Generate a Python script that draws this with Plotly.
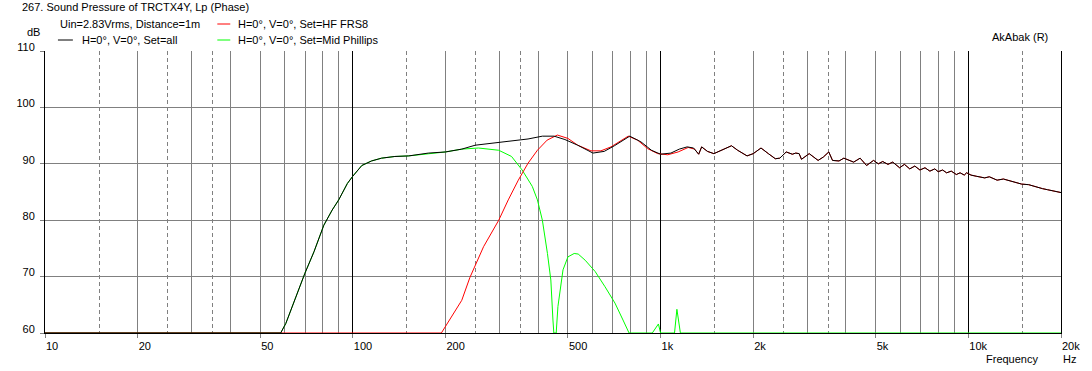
import math
import plotly.graph_objects as go

# ---------------- data ----------------
FREQ_ALL = [10, 58.3, 60.6, 65.3, 69.9, 74.8, 80.5, 85.7, 90, 96, 100, 107, 115, 124, 137, 152, 176, 200,
            226, 250, 290, 328, 371, 413, 451, 489, 538, 603, 656, 708, 755, 794, 863, 934, 1000,
            1080, 1150, 1220, 1280, 1330, 1360, 1420, 1490, 1580, 1700, 1780, 1910, 2000, 2120, 2240,
            2360, 2440, 2560, 2680, 2750, 2820, 2870, 3040, 3130, 3250, 3380, 3520, 3620, 3800, 3940,
            4090, 4240, 4450, 4670, 4920, 5100, 5270, 5480, 5680, 5980, 6200, 6450, 6700, 6960, 7230,
            7500, 7780, 7980, 8250, 8500, 8800, 9140, 9400, 9700, 9870, 10200, 10600, 11300, 11700,
            12400, 13000, 13600, 14200, 14900, 15700, 16500, 17400, 18100, 19000, 20000]
DB_ALL = [60.0, 60.0, 61.7, 66.4, 70.6, 74.4, 79.1, 81.8, 83.6, 86.5, 87.8, 89.7, 90.5, 91.0, 91.3, 91.4, 91.9, 92.1,
          92.6, 93.3, 93.7, 94.0, 94.4, 94.9, 94.9, 94.3, 93.3, 91.9, 92.2, 93.2, 94.2, 94.9, 93.9, 92.4, 91.7,
          91.9, 92.6, 93.0, 92.8, 91.7, 93.0, 92.2, 91.8, 92.4, 93.2, 92.4, 91.4, 91.8, 92.8, 91.8,
          90.9, 91.0, 92.1, 91.7, 91.9, 91.8, 90.8, 91.8, 91.3, 90.6, 91.2, 92.1, 90.6, 90.5, 91.0,
          90.6, 90.3, 91.0, 89.7, 90.6, 90.0, 90.4, 89.9, 90.3, 89.3, 89.9, 89.1, 89.6, 88.9, 89.3,
          88.7, 89.1, 88.6, 88.9, 88.4, 88.7, 88.1, 88.4, 88.0, 88.4, 88.0, 87.8, 87.5, 87.7,
          87.1, 87.3, 87.0, 86.8, 86.4, 86.3, 85.9, 85.6, 85.4, 85.2, 84.9]

FREQ_HF = [10, 194, 226, 240, 266, 298, 320, 345, 371, 398, 428, 462, 500, 538, 594, 640, 690, 744,
           785, 842, 907, 979, 1055, 1140, 1230, 1290]
DB_HF = [60.0, 60.0, 65.8, 69.8, 75.3, 80.0, 83.6, 87.1, 90.1, 92.4, 94.2, 95.1, 94.5, 93.3, 92.3, 92.3, 93.0, 94.2,
         94.9, 94.2, 92.7, 91.8, 91.6, 92.1, 92.9, 92.6]

FREQ_MID = [10, 58.3, 60.6, 65.3, 69.9, 74.8, 80.5, 85.7, 90, 96, 100, 107, 115, 124, 137, 152, 176, 200,
            226, 256, 298, 328, 355, 371, 383, 398, 413, 429, 440, 447, 450, 458, 464, 482, 500, 524,
            540, 569, 613, 660, 711, 755, 790, 940, 984, 1000, 1110, 1130, 1160, 20000]
DB_MID = [60.0, 60.0, 61.7, 66.4, 70.6, 74.4, 79.1, 81.8, 83.6, 86.5, 87.8, 89.7, 90.5, 91.0, 91.3, 91.4, 91.8, 92.1,
          92.6, 92.8, 92.4, 91.3, 88.9, 87.1, 86.0, 83.6, 80.0, 74.1, 69.4, 62.3, 60.0, 60.0, 64.7, 71.2, 73.5, 74.1,
          74.0, 72.9, 70.9, 68.2, 65.3, 62.3, 60.0, 60.0, 61.6, 60.0, 60.0, 64.2, 60.0, 60.0]

# axis ticks / grids
X_LABEL_VALS = [10, 20, 50, 100, 200, 500, 1000, 2000, 5000, 10000, 20000]
X_LABEL_TEXT = ["10", "20", "50", "100", "200", "500", "1k", "2k", "5k", "10k", "20k"]
GRID_SOLID = [20, 30, 40, 50, 60, 70, 80, 90,
              200, 300, 400, 500, 600, 700, 800, 900,
              2000, 3000, 4000, 5000, 6000, 7000, 8000, 9000]
GRID_DASH = [15, 25, 35, 150, 250, 350, 1500, 2500, 3500, 15000]
GRID_MAJOR = [100, 1000, 10000]
Y_TICKS = [60, 70, 80, 90, 100, 110]

# red follows the total response above ~1.3 kHz
FREQ_HF_FULL = FREQ_HF + [f for f in FREQ_ALL if f > 1300]
DB_HF_FULL = DB_HF + [d for f, d in zip(FREQ_ALL, DB_ALL) if f > 1300]

# ---------------- layout geometry ----------------
W, H = 1092, 371
ML, MR, MT, MB = 45, 27, 51, 38
PW, PH = W - ML - MR, H - MT - MB
FONT = "Liberation Sans, Arial, sans-serif"
GRAY = "#808080"


def px(x):
    return (x - ML) / PW


def py(y):
    return (H - MB - y) / PH


fig = go.Figure()
fig.add_trace(go.Scatter(x=FREQ_MID, y=DB_MID, mode="lines", line=dict(color="#00FF00", width=1),
                         xaxis="x", yaxis="y", showlegend=False, hoverinfo="skip"))
fig.add_trace(go.Scatter(x=FREQ_HF_FULL, y=DB_HF_FULL, mode="lines", line=dict(color="#FF0000", width=1),
                         xaxis="x2", yaxis="y", showlegend=False, hoverinfo="skip"))
fig.add_trace(go.Scatter(x=FREQ_ALL, y=DB_ALL, mode="lines", line=dict(color="#000000", width=1),
                         xaxis="x3", yaxis="y", showlegend=False, hoverinfo="skip"))

xr = [math.log10(10), math.log10(20000)]

fig.update_layout(
    width=W, height=H,
    margin=dict(l=ML, r=MR, t=MT, b=MB, pad=0),
    paper_bgcolor="white", plot_bgcolor="white",
    font=dict(family=FONT, size=11, color="black"),
    xaxis=dict(type="log", range=xr, tickmode="array", tickvals=X_LABEL_VALS, ticktext=X_LABEL_TEXT,
               showgrid=False, zeroline=False, showline=True, linecolor="black", linewidth=1,
               ticks="outside", ticklen=4, tickcolor=GRAY, tickwidth=1, ticklabelstandoff=3,
               ticklabelposition="outside right", tickfont=dict(family=FONT, size=11, color="black"),
               layer="below traces", fixedrange=True),
    xaxis2=dict(type="log", range=xr, overlaying="x", anchor="y", tickmode="array", tickvals=GRID_SOLID,
                showticklabels=False, ticks="", showgrid=True, gridcolor=GRAY, gridwidth=1,
                zeroline=False, showline=False,
                minor=dict(tickmode="array", tickvals=GRID_DASH, showgrid=True, gridcolor=GRAY,
                           griddash="4px,3px", gridwidth=1, ticks=""),
                layer="below traces"),
    xaxis3=dict(type="log", range=xr, overlaying="x", anchor="y", tickmode="array", tickvals=GRID_MAJOR,
                showticklabels=False, ticks="", showgrid=True, gridcolor="black", gridwidth=1,
                zeroline=False, showline=False, layer="below traces"),
    yaxis=dict(range=[60, 110], tickmode="array", tickvals=Y_TICKS, showgrid=True, gridcolor=GRAY,
               gridwidth=1, zeroline=False, showline=True, linecolor="black", linewidth=1, mirror=True,
               ticks="outside", ticklen=4, tickcolor=GRAY, ticklabelstandoff=3, ticklabelshift=-4,
               tickfont=dict(family=FONT, size=11, color="black"), layer="below traces", fixedrange=True),
)

texts = [
    ("267. Sound Pressure of TRCTX4Y, Lp (Phase)", 20, 7, "left"),
    ("Uin=2.83Vrms, Distance=1m", 58, 24, "left"),
    ("H=0°, V=0°, Set=all", 80, 40, "left"),
    ("H=0°, V=0°, Set=HF FRS8", 237, 24, "left"),
    ("H=0°, V=0°, Set=Mid Phillips", 237, 40, "left"),
    ("dB", 25, 32, "left"),
    ("AkAbak (R)", 994, 37, "left"),
    ("Frequency", 988, 359, "left"),
    ("Hz", 1065, 359, "left"),
]
for t, x, y, anc in texts:
    fig.add_annotation(text=t, x=px(x), y=py(y), xref="paper", yref="paper", xanchor=anc, yanchor="middle",
                       showarrow=False, font=dict(family=FONT, size=11, color="black"))

legend_keys = [("black", 58, 73, 40), ("#FF0000", 218, 231, 24), ("#00FF00", 218, 231, 40)]
for col, x0, x1, y in legend_keys:
    fig.add_shape(type="line", xref="paper", yref="paper", x0=px(x0), x1=px(x1), y0=py(y), y1=py(y),
                  line=dict(color=col, width=1))

fig.write_html("out.html")
